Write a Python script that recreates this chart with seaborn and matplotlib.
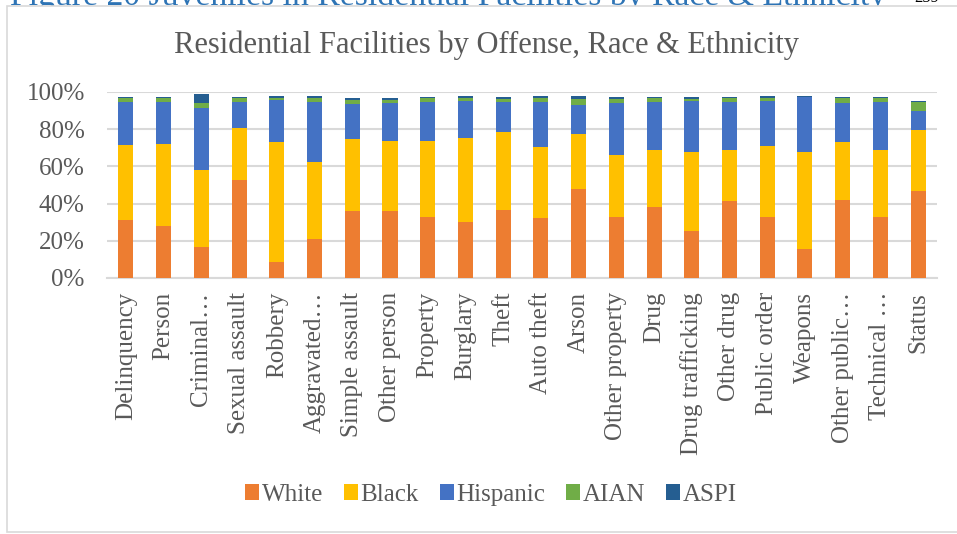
import matplotlib
matplotlib.use("Agg")
import matplotlib.pyplot as plt
from matplotlib.patches import Rectangle, Patch
import numpy as np
import pandas as pd
import seaborn as sns

categories = ["Delinquency", "Person", "Criminal…", "Sexual assault", "Robbery",
              "Aggravated…", "Simple assault", "Other person", "Property", "Burglary",
              "Theft", "Auto theft", "Arson", "Other property", "Drug",
              "Drug trafficking", "Other drug", "Public order", "Weapons",
              "Other public…", "Technical …", "Status"]

white    = [31.4, 28.1, 16.5, 52.9, 8.6, 21.0, 36.2, 35.8, 33.0, 30.1, 36.7, 32.1, 48.0, 33.0, 38.4, 25.1, 41.2, 32.6, 15.4, 41.8, 33.0, 46.8]
black    = [40.1, 43.8, 41.6, 27.7, 64.5, 41.5, 38.7, 37.7, 40.8, 45.2, 41.8, 38.2, 29.4, 33.1, 30.2, 42.8, 27.8, 38.5, 52.5, 31.3, 35.6, 32.8]
hispanic = [23.1, 22.5, 33.1, 14.0, 22.8, 32.1, 18.5, 20.6, 20.8, 19.9, 15.9, 24.3, 15.8, 28.0, 26.0, 27.1, 25.6, 23.9, 29.2, 20.8, 26.0, 10.0]
aian     = [2.2, 2.2, 2.9, 2.2, 1.1, 2.2, 2.5, 1.8, 2.2, 1.6, 1.8, 2.2, 3.2, 2.3, 2.2, 1.4, 2.4, 1.8, 0.4, 2.9, 2.2, 4.8]
aspi     = [0.7, 0.9, 4.6, 0.5, 0.8, 1.0, 1.1, 0.9, 0.7, 0.9, 0.9, 0.9, 1.4, 0.9, 0.7, 0.9, 0.5, 0.9, 0.5, 0.7, 0.7, 0.8]

series_names = ["White", "Black", "Hispanic", "AIAN", "ASPI"]
series_colors = ["#ED7D31", "#FFC000", "#4472C4", "#70AD47", "#255E91"]

sns.set_theme(style="white")
plt.rcParams['font.family'] = ['Liberation Serif', 'DejaVu Serif']
text_color = "#595959"

fig = plt.figure(figsize=(9.57, 5.34), dpi=100)
W, H = 957, 534

# header text of the page, partly hidden behind the chart frame (as in the reference)
fig.text(10 / W, 1 - 4.5 / H, "Figure 20 Juveniles in Residential Facilities by Race & Ethnicity",
         color="#2E74B5", fontsize=24.3, ha="left", va="baseline", zorder=-3)
fig.text(914 / W, 1 - 2 / H, "259", color="black", fontsize=12, ha="left", va="baseline", zorder=-3)
frame = Rectangle((7 / W, 1 - 532 / H), 1.2, (532 - 6) / H, transform=fig.transFigure,
                  facecolor="white", edgecolor="#D9D9D9", linewidth=1.2, zorder=-1)
fig.patches.append(frame)

ax = fig.add_axes([107 / W, 1 - 278 / H, (937 - 107) / W, (278 - 92) / H])
ax.set_facecolor("none")

df = pd.DataFrame({"cat": categories, "White": white, "Black": black,
                   "Hispanic": hispanic, "AIAN": aian, "ASPI": aspi})
cum = df[series_names].cumsum(axis=1) / 100.0

for name, col in reversed(list(zip(series_names, series_colors))):
    sns.barplot(x=df["cat"], y=cum[name], color=col, width=0.40, ax=ax,
                saturation=1, order=categories, linewidth=0, zorder=3)

ax.set_ylim(0, 1)
ax.set_xlim(-0.5, len(categories) - 0.5)
ax.set_yticks([0, 0.2, 0.4, 0.6, 0.8, 1.0])
ax.set_yticklabels(["0%", "20%", "40%", "60%", "80%", "100%"])
ax.yaxis.grid(True, color="#D9D9D9", linewidth=1.5, zorder=0)
ax.set_axisbelow(True)
for s in ["top", "right", "left"]:
    ax.spines[s].set_visible(False)
ax.spines["bottom"].set_color("#D9D9D9")
ax.spines["bottom"].set_linewidth(1.5)
ax.set_xlabel("")
ax.set_ylabel("")
ax.tick_params(axis="y", length=0, pad=16, labelsize=18, labelcolor=text_color)
ax.tick_params(axis="x", length=0, pad=10, labelsize=18, labelcolor=text_color)
ax.set_xticks(range(len(categories)))
ax.set_xticklabels(categories, rotation=90, va="top", ha="center")

fig.text(486 / W, 1 - 45 / H, "Residential Facilities by Offense, Race & Ethnicity",
         ha="center", va="center", fontsize=22, color=text_color)

handles = [Patch(facecolor=c, edgecolor="none", label=n) for n, c in zip(series_names, series_colors)]
fig.legend(handles=handles, loc="center", bbox_to_anchor=(491 / W, 1 - 495 / H), ncol=5,
           frameon=False, fontsize=18, handlelength=0.55, handleheight=0.6,
           handletextpad=0.1, columnspacing=0.85, labelcolor=text_color)

fig.savefig("out.png", dpi=100)
